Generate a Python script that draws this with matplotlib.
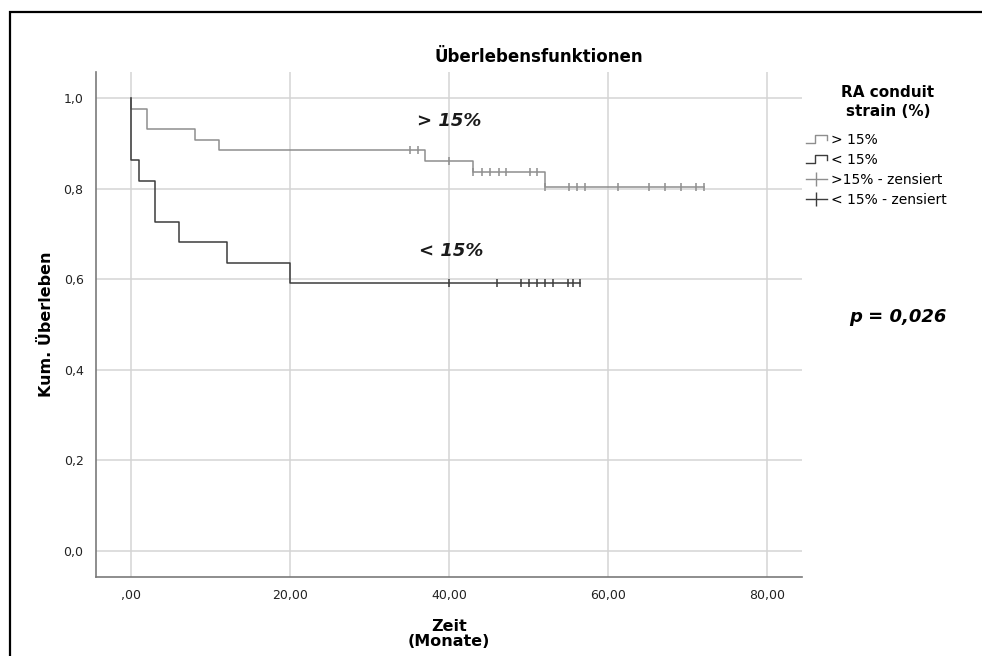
import matplotlib
matplotlib.use('Agg')
import matplotlib.pyplot as plt
from matplotlib.lines import Line2D
from matplotlib.legend_handler import HandlerBase
from matplotlib.patches import Rectangle
import numpy as np

# Kaplan-Meier steps, group > 15%
t_hi = [0, 0, 2, 8, 11, 37, 43, 52, 72]
s_hi = [1.0, 0.977, 0.932, 0.909, 0.886, 0.862, 0.838, 0.805, 0.805]
cens_t_hi = [35, 36.1, 40, 43, 44.1, 45.1, 46.2, 47.2, 50.1, 51.1, 52,
             55.1, 56.1, 57.1, 61.2, 65.1, 67.1, 69.1, 71.1, 72]
# Kaplan-Meier steps, group < 15%
t_lo = [0, 0, 1, 3, 6, 12, 20, 56.5]
s_lo = [1.0, 0.864, 0.818, 0.727, 0.682, 0.636, 0.591, 0.591]
cens_t_lo = [40, 46, 49, 50, 51, 52, 53, 55, 55.6, 56.5]

labels = ['> 15%', '< 15%', '>15% - zensiert', '< 15% - zensiert']
xticks = [0, 20, 40, 60, 80]
xticklabels = [',00', '20,00', '40,00', '60,00', '80,00']
yticks = [0.0, 0.2, 0.4, 0.6, 0.8, 1.0]
yticklabels = ['0,0', '0,2', '0,4', '0,6', '0,8', '1,0']

c_hi = '#8e8e8e'
c_lo = '#3c3c3c'


def surv_at(t, times, surv):
    # value of the step function just after time t
    idx = max(i for i in range(len(times)) if times[i] <= t)
    return surv[idx]


class StepHandler(HandlerBase):
    def create_artists(self, legend, orig_handle, xdescent, ydescent,
                       width, height, fontsize, trans):
        xs = np.array([0, 0.45, 0.45, 1, 1]) * width - xdescent
        ys = np.array([0.1, 0.1, 0.95, 0.95, 0.4]) * height - ydescent
        ln = Line2D(xs, ys, color=orig_handle.get_color(), lw=1)
        ln.set_transform(trans)
        return [ln]


fig = plt.figure(figsize=(9.82, 6.56), dpi=100)
ax = fig.add_axes([0.0978, 0.121, 0.719, 0.769])

ax.step(t_hi, s_hi, where='post', color=c_hi, lw=1.1)
ax.step(t_lo, s_lo, where='post', color=c_lo, lw=1.1)
ax.plot(cens_t_hi, [surv_at(t, t_hi, s_hi) for t in cens_t_hi], ls='none',
        marker='|', ms=6, mew=1.1, color=c_hi)
ax.plot(cens_t_lo, [surv_at(t, t_lo, s_lo) for t in cens_t_lo], ls='none',
        marker='|', ms=6, mew=1.1, color=c_lo)

ax.set_xlim(-4.45, 84.4)
ax.set_ylim(-0.057, 1.058)
ax.set_xticks(xticks)
ax.set_xticklabels(xticklabels)
ax.set_yticks(yticks)
ax.set_yticklabels(yticklabels)
ax.tick_params(length=0, labelsize=9, colors='#222222', pad=9)
ax.grid(True, color='#d4d4d4', lw=1.1)
ax.set_axisbelow(True)
for sp in ['top', 'right']:
    ax.spines[sp].set_visible(False)
for sp in ['left', 'bottom']:
    ax.spines[sp].set_color('#7a7a7a')
    ax.spines[sp].set_linewidth(1.2)

ax.set_ylabel('Kum. Überleben', fontsize=11.5, fontweight='bold', labelpad=7)
ax.set_xlabel('Zeit\n(Monate)', fontsize=11.5, fontweight='bold', labelpad=12,
              linespacing=1.0)

ax.text(40, 0.949, '> 15%', fontsize=13, fontweight='bold', style='italic',
        ha='center', va='center', color='#1a1a1a')
ax.text(40.2, 0.663, '< 15%', fontsize=13, fontweight='bold', style='italic',
        ha='center', va='center', color='#1a1a1a')

fig.text(0.549, 0.913, 'Überlebensfunktionen', fontsize=12, fontweight='bold',
         ha='center', va='center')
fig.text(0.914, 0.517, 'p = 0,026', fontsize=13, fontweight='bold',
         style='italic', ha='center', va='center')
fig.text(888 / 982, 1 - 102 / 656, 'RA conduit\nstrain (%)', fontsize=11,
         fontweight='bold', ha='center', va='center', multialignment='center',
         linespacing=1.3)

handles = [Line2D([], [], color=c_hi), Line2D([], [], color=c_lo),
           Line2D([], [], color=c_hi, marker='|', ms=10, lw=1),
           Line2D([], [], color=c_lo, marker='|', ms=10, lw=1)]
leg = fig.legend(handles, labels, loc='upper left',
                 bbox_to_anchor=(806 / 982, 1 - 133 / 656), frameon=False,
                 fontsize=10, borderpad=0, borderaxespad=0,
                 handlelength=1.5, handletextpad=0.3,
                 labelspacing=0.42, numpoints=1,
                 handler_map={handles[0]: StepHandler(), handles[1]: StepHandler()})

fig.patches.append(Rectangle((10 / 982, -0.1), 1.2, 1 - 12 / 656 + 0.1,
                             transform=fig.transFigure, fill=False,
                             edgecolor='black', lw=1.6))

plt.savefig('out.png', dpi=100)
